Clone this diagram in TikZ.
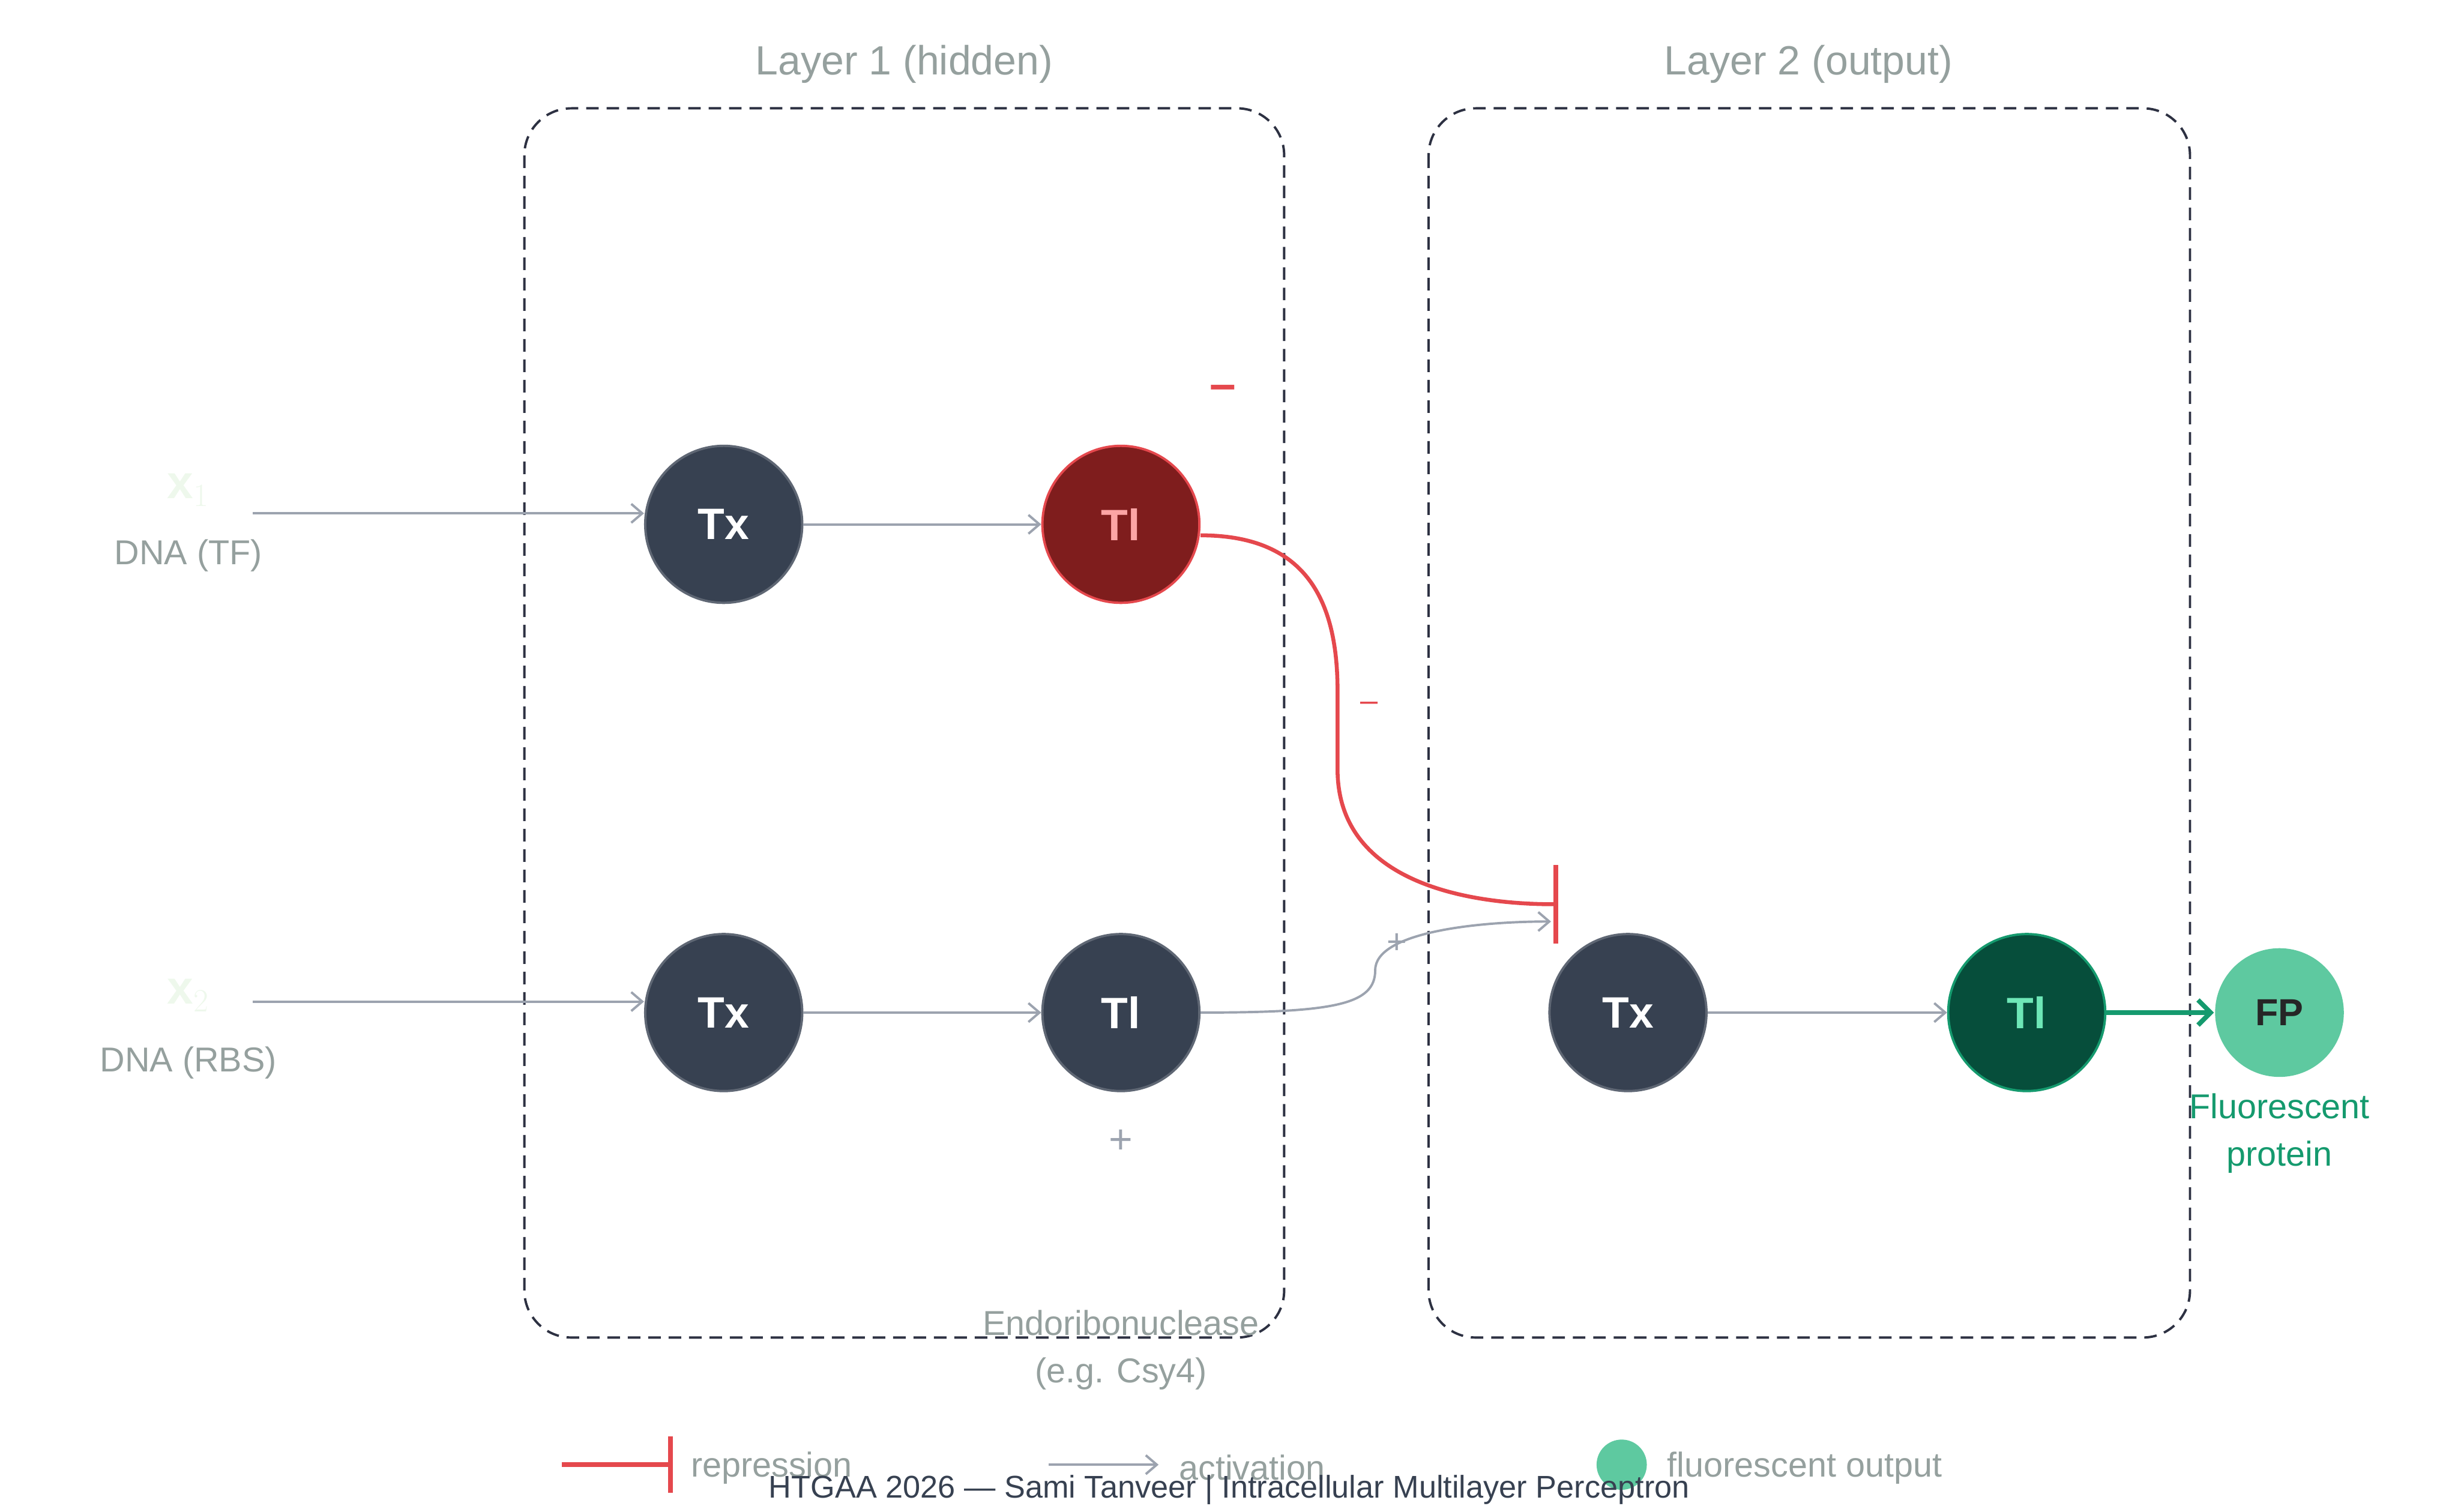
\documentclass[tikz,border=0pt]{standalone}
\usepackage{fontspec}
\setmainfont{Liberation Sans}
\usetikzlibrary{arrows.meta}
\definecolor{boxline}{HTML}{2D3142}
\definecolor{muted}{HTML}{95A09E}
\definecolor{arrowgray}{HTML}{9CA3AF}
\definecolor{slate}{HTML}{374151}
\definecolor{repred}{HTML}{E5484D}
\definecolor{darkred}{HTML}{7F1D1D}
\definecolor{pinktext}{HTML}{FCA5A5}
\definecolor{darkgreen}{HTML}{064E3B}
\definecolor{mint}{HTML}{6EE7B7}
\definecolor{fpgreen}{HTML}{5EC9A0}
\definecolor{textgreen}{HTML}{159A6E}
\definecolor{ghost}{HTML}{EEF8EC}
\begin{document}
\begin{tikzpicture}[x=1pt, y=-1pt, line width = 1.5pt,
    layer/.style = {draw=boxline, dashed, dash pattern=on 8pt off 5pt, rounded corners = 30pt},
    gene/.style = {circle, minimum size = 100pt, inner sep = 0pt, fill=slate, draw=slate!80,
                   text=white, font=\bfseries\fontsize{28}{30}\selectfont},
    note/.style = {text=muted, font=\fontsize{22}{26}\selectfont},
    act/.style = {draw=arrowgray, -{Straight Barb[length=7pt, width=12pt]}},
    rep/.style = {draw=repred, line width = 3pt}]
  \useasboundingbox (0,0) rectangle (1560,963);
  % layers
  \draw [layer] (334,69) rectangle (818,852);
  \draw [layer] (910,69) rectangle (1395,852);
  \node [note, font=\fontsize{26}{30}\selectfont] (L1) at (576,41) {Layer 1 (hidden)};
  \node [note, font=\fontsize{26}{30}\selectfont] (L2) at (1152,41) {Layer 2 (output)};
  % inputs
  \node [text=ghost, font=\bfseries\fontsize{30}{32}\selectfont] (x1) at (120,312) {x$_1$};
  \node [note] (dna1) at (120,354) {DNA (TF)};
  \node [text=ghost, font=\bfseries\fontsize{30}{32}\selectfont] (x2) at (120,634) {x$_2$};
  \node [note] (dna2) at (120,677) {DNA (RBS)};
  \coordinate (in1) at (161,327);
  \coordinate (in2) at (161,638);
  % genes
  \node [gene] (Tx1) at (461,334) {Tx};
  \node [gene, fill=darkred, draw=repred, text=pinktext] (Tl1) at (714,334) {Tl};
  \node [gene] (Tx2) at (461,645) {Tx};
  \node [gene] (Tl2) at (714,645) {Tl};
  \node [gene] (Tx3) at (1037,645) {Tx};
  \node [gene, fill=darkgreen, draw=textgreen, text=mint] (Tl3) at (1291,645) {Tl};
  \node [circle, minimum size = 82pt, inner sep = 0pt, fill=fpgreen, text=black!85,
         font=\bfseries\fontsize{24}{26}\selectfont] (FP) at (1452,645) {FP};
  \node [text=textgreen, font=\fontsize{22}{30}\selectfont, align=center] (fpl) at (1452,722) {Fluorescent\\protein};
  % activation
  \draw [act] (in1) -- (Tx1.west |- in1);
  \draw [act] (in2) -- (Tx2.west |- in2);
  \draw [act] (Tx1) -- (Tl1);
  \draw [act] (Tx2) -- (Tl2);
  \draw [act] (Tx3) -- (Tl3);
  \draw [draw=textgreen, line width = 3pt, -{Straight Barb[length=8pt, width=16pt]}] (Tl3) -- (FP);
  \coordinate (repend) at (990,576);
  \coordinate (actend) at (988,587);
  \draw [act] (Tl2.east) .. controls (850,645) and (876,640) .. (876,618)
                          .. controls (876,594) and (940,587) .. (actend);
  % repression
  \draw [rep, line width = 2.5pt] (Tl1.east |- 0,341) .. controls (830,341) and (852,380) .. (852,440)
        -- (852,490) .. controls (852,560) and (930,576) .. (repend);
  \draw [rep] (991,551) -- (991,601);
  \node [text=repred, font=\bfseries\fontsize{30}{30}\selectfont] (m1) at (779,250) {--};
  \node [text=repred, font=\fontsize{20}{20}\selectfont] (m2) at (872,450) {--};
  \node [text=arrowgray, font=\fontsize{22}{22}\selectfont] (p1) at (890,601) {+};
  \node [text=arrowgray, font=\fontsize{26}{26}\selectfont] (p2) at (714,727) {+};
  \node [note, align=center, font=\fontsize{22}{30}\selectfont] (endo) at (714,860) {Endoribonuclease\\(e.g. Csy4)};
  % legend
  \coordinate (lr1) at (358,933); \coordinate (lr2) at (427,933);
  \draw [rep] (lr1) -- (lr2); \draw [rep] (427,915) -- (427,951);
  \node [note, anchor=west] (lrep) at (436,935) {repression};
  \coordinate (la1) at (668,933); \coordinate (la2) at (738,933);
  \draw [act] (la1) -- (la2);
  \node [note, anchor=west] (lact) at (747,935) {activation};
  \node [circle, fill=fpgreen, minimum size = 32pt, inner sep = 0pt] (lfp) at (1033,933) {};
  \node [note, anchor=west] (lfl) at (1058,935) {fluorescent output};
  \node [text=slate, font=\fontsize{20}{22}\selectfont] (foot) at (783,949) {HTGAA 2026 — Sami Tanveer | Intracellular Multilayer Perceptron};
\end{tikzpicture}
\end{document}
